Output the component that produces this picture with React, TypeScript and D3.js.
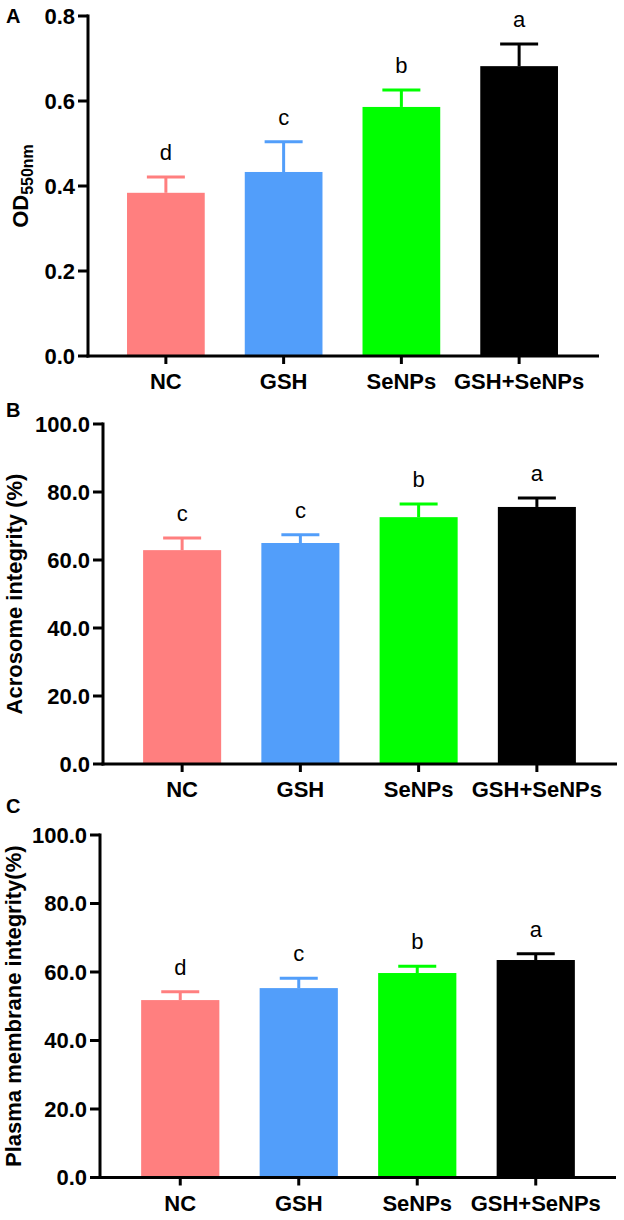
import React from "react";
import * as d3 from "d3";

const categories = ["NC", "GSH", "SeNPs", "GSH+SeNPs"];
const colors = ["#FF7F7F", "#529EFA", "#00FF00", "#000000"];

const odValues = [0.384, 0.433, 0.586, 0.682];
const odErrors = [0.037, 0.071, 0.040, 0.052];
const odLetters = ["d", "c", "b", "a"];
const odTicks = [0, 0.2, 0.4, 0.6, 0.8];

const acrosomeValues = [62.9, 65.0, 72.6, 75.6];
const acrosomeErrors = [3.6, 2.4, 3.9, 2.6];
const acrosomeLetters = ["c", "c", "b", "a"];
const pctTicks = [0, 20, 40, 60, 80, 100];

const membraneValues = [51.8, 55.3, 59.7, 63.5];
const membraneErrors = [2.4, 2.9, 2.0, 1.8];
const membraneLetters = ["d", "c", "b", "a"];

const FONT = "'Liberation Sans', Arial, Helvetica, sans-serif";

type PanelProps = {
  tag: string;
  tagY: number;
  axisX: number;
  xEnd: number;
  yTop: number;
  yBottom: number;
  bandRange: [number, number];
  max: number;
  ticks: number[];
  fmt: (v: number) => string;
  values: number[];
  errors: number[];
  letters: string[];
  ylabel: React.ReactNode;
  ylabelX: number;
};

function Panel(p: PanelProps) {
  const x = d3.scaleBand<string>().domain(categories).range(p.bandRange).paddingInner(0.34).paddingOuter(0.17);
  const y = d3.scaleLinear().domain([0, p.max]).range([p.yBottom, p.yTop]);
  const bw = x.bandwidth();
  const cap = 38;
  return (
    <g>
      <text x={6} y={p.tagY} fontFamily={FONT} fontWeight="bold" fontSize={20}>{p.tag}</text>
      {categories.map((c, i) => {
        const cx = (x(c) as number) + bw / 2;
        const top = y(p.values[i]);
        const et = y(p.values[i] + p.errors[i]);
        return (
          <g key={c}>
            <rect x={x(c)} y={top} width={bw} height={p.yBottom - top} fill={colors[i]} />
            <line x1={cx} x2={cx} y1={top} y2={et} stroke={colors[i]} strokeWidth={3} />
            <line x1={cx - cap / 2} x2={cx + cap / 2} y1={et} y2={et} stroke={colors[i]} strokeWidth={3} />
            <text x={cx} y={et - 17} textAnchor="middle" fontFamily={FONT} fontSize={22}>{p.letters[i]}</text>
            <line x1={cx} x2={cx} y1={p.yBottom} y2={p.yBottom + 8} stroke="#000" strokeWidth={3} />
            <text x={cx} y={p.yBottom + 33} textAnchor="middle" fontFamily={FONT} fontWeight="bold" fontSize={22}>{c}</text>
          </g>
        );
      })}
      {p.ticks.map((t) => (
        <g key={t}>
          <line x1={p.axisX - 10} x2={p.axisX} y1={y(t)} y2={y(t)} stroke="#000" strokeWidth={3} />
          <text x={p.axisX - 13} y={y(t)} dy="0.36em" textAnchor="end" fontFamily={FONT} fontWeight="bold" fontSize={22}>{p.fmt(t)}</text>
        </g>
      ))}
      <line x1={p.axisX} x2={p.axisX} y1={p.yTop - 1.5} y2={p.yBottom + 1.5} stroke="#000" strokeWidth={3} />
      <line x1={p.axisX - 1.5} x2={p.xEnd} y1={p.yBottom} y2={p.yBottom} stroke="#000" strokeWidth={3} />
      <text
        transform={`translate(${p.ylabelX},${(p.yTop + p.yBottom) / 2}) rotate(-90)`}
        textAnchor="middle"
        dy="0.35em"
        fontFamily={FONT}
        fontWeight="bold"
        fontSize={22}
      >
        {p.ylabel}
      </text>
    </g>
  );
}

export default function App() {
  const f2 = d3.format(".1f");
  return (
    <svg width={624} height={1220} style={{ position: "absolute", left: 0, top: 0, background: "#fff" }}>
      <Panel
        tag="A" tagY={23} axisX={88} xEnd={599} yTop={16} yBottom={356}
        bandRange={[107, 578]} max={0.8} ticks={odTicks} fmt={f2}
        values={odValues} errors={odErrors} letters={odLetters}
        ylabel={<>OD<tspan fontSize={16} dy="5">550nm</tspan></>}
        ylabelX={20}
      />
      <Panel
        tag="B" tagY={417} axisX={103} xEnd={617} yTop={424} yBottom={764}
        bandRange={[123, 596]} max={100} ticks={pctTicks} fmt={f2}
        values={acrosomeValues} errors={acrosomeErrors} letters={acrosomeLetters}
        ylabel="Acrosome integrity (%)" ylabelX={14}
      />
      <Panel
        tag="C" tagY={813} axisX={100} xEnd={616} yTop={835} yBottom={1177.5}
        bandRange={[121, 595]} max={100} ticks={pctTicks} fmt={f2}
        values={membraneValues} errors={membraneErrors} letters={membraneLetters}
        ylabel="Plasma membrane integrity(%)" ylabelX={13}
      />
    </svg>
  );
}
